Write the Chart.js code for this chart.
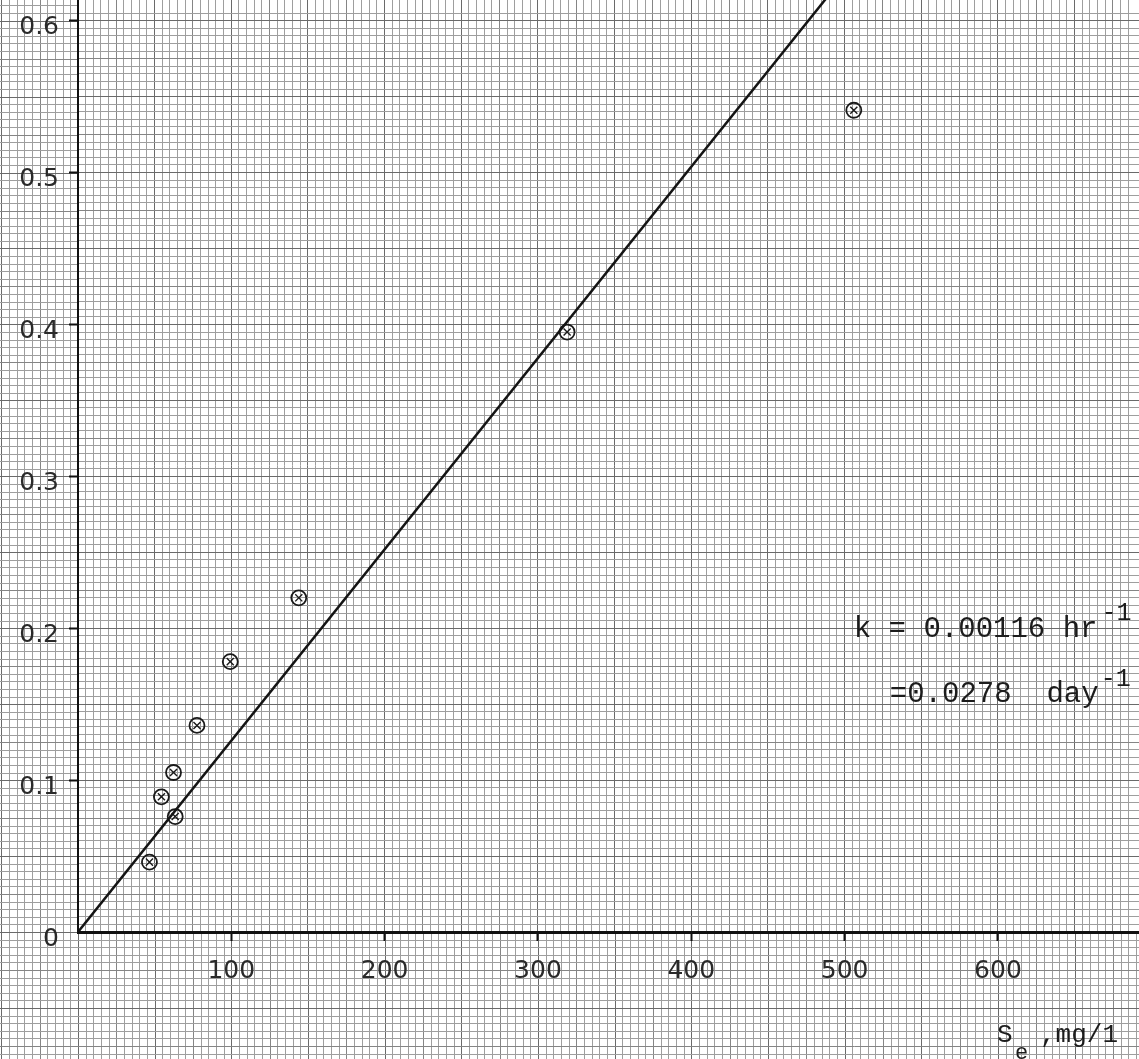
<!DOCTYPE html>
<html><head><meta charset="utf-8">
<script src="https://cdn.jsdelivr.net/npm/chart.js@4/dist/chart.umd.min.js"></script>
<style>html,body{margin:0;padding:0;background:#fff;}#wrap{width:1139px;height:1059px;position:relative;}</style>
</head><body><div id="wrap"><canvas id="c" width="1139" height="1059"></canvas></div>
<script>
// ---- data ----
const seX   = [46.6, 54.4, 62.3, 63.4, 77.6, 99.3, 144, 319, 506];
const rateY = [0.046, 0.089, 0.105, 0.076, 0.136, 0.178, 0.220, 0.395, 0.541];
const fitX  = [0, 520];
const fitY  = [0, 0.655];
const xTickLabels = [100, 200, 300, 400, 500, 600];
const yTickLabels = [0, 0.1, 0.2, 0.3, 0.4, 0.5, 0.6];
const annotLine1 = ["k = 0.00116 hr", "-1"];
const annotLine2 = ["=0.0278  day", "-1"];
const axisTitle = ["S", "e", ",mg/1"];
const annotAnchor = {x: 506, y: 0.194};

const X_MIN = 0, X_MAX = 692, Y_MIN = 0, Y_MAX = 0.6136;
const FINE_C = '#9e9e9e', MED_C = '#858585', HEAVY_C = '#6a6a6a';

function gridStyleX(v){
  const n = Math.round(v/5);
  if (Math.abs(v - n*5) > 1e-6) return null;
  if (n % 10 === 0) return HEAVY_C;
  if (n % 5 === 0) return MED_C;
  return FINE_C;
}
function gridStyleY(v){
  const n = Math.round(v/0.005);
  if (Math.abs(v - n*0.005) > 1e-7) return null;
  if (n % 10 === 0) return HEAVY_C;
  if (n % 5 === 0) return MED_C;
  return FINE_C;
}
function isXLabel(v){ return xTickLabels.some(t => Math.abs(t - v) < 1e-6); }
function isYLabel(v){ return yTickLabels.some(t => Math.abs(t - v) < 1e-7); }

const paperPlugin = {
  id: 'paper',
  beforeDraw(chart){
    const {ctx, scales:{x, y}, chartArea:a} = chart;
    const W = chart.width, H = chart.height;
    ctx.save();
    ctx.lineWidth = 1;
    for (let n = -40; n <= 140; n++){
      const v = n*5;
      const px = Math.round(x.getPixelForValue(v)) + 0.5;
      if (px < 0 || px > W) continue;
      ctx.strokeStyle = gridStyleX(v);
      ctx.beginPath();
      if (px < a.left){ ctx.moveTo(px, 0); ctx.lineTo(px, H); }
      else { ctx.moveTo(px, a.bottom); ctx.lineTo(px, H); }
      ctx.stroke();
    }
    for (let n = -40; n <= 124; n++){
      const v = n*0.005;
      const py = Math.round(y.getPixelForValue(v)) + 0.5;
      if (py < 0 || py > H) continue;
      ctx.strokeStyle = gridStyleY(v);
      ctx.beginPath();
      if (py > a.bottom){ ctx.moveTo(0, py); ctx.lineTo(W, py); }
      else { ctx.moveTo(0, py); ctx.lineTo(a.left, py); }
      ctx.stroke();
    }
    ctx.restore();
  },
  afterDraw(chart){
    const {ctx, scales:{x, y}} = chart;
    ctx.save();
    ctx.fillStyle = '#1c1c1c';
    ctx.textBaseline = 'alphabetic';
    ctx.textAlign = 'left';
    const ax = x.getPixelForValue(annotAnchor.x);
    const ay = y.getPixelForValue(annotAnchor.y);
    ctx.font = '29px "Liberation Mono"';
    ctx.fillText(annotLine1[0], ax, ay);
    const w1 = ctx.measureText(annotLine1[0]).width;
    const ax2 = ax + 36;
    ctx.fillText(annotLine2[0], ax2, ay + 65);
    const w2 = ctx.measureText(annotLine2[0]).width;
    ctx.font = '25px "Liberation Mono"';
    ctx.fillText(annotLine1[1], ax + w1 + 4, ay - 17);
    ctx.fillText(annotLine2[1], ax2 + w2 + 2, ay + 49);
    ctx.font = '26px "Liberation Mono"';
    ctx.fillText(axisTitle[0], 997, 1042);
    ctx.fillText(axisTitle[2], 1040, 1042);
    ctx.font = '22px "Liberation Mono"';
    ctx.fillText(axisTitle[1], 1015, 1059);
    ctx.restore();
  }
};

const tickFont = {family: '"DejaVu Sans"', size: 25};

new Chart(document.getElementById('c'), {
  type: 'scatter',
  data: {
    datasets: [
      {
        type: 'line',
        data: fitX.map((v, i) => ({x: v, y: fitY[i]})),
        borderColor: '#141414', borderWidth: 2.5, pointRadius: 0, fill: false, tension: 0
      },
      {
        data: seX.map((v, i) => ({x: v, y: rateY[i]})),
        pointStyle: 'circle', pointRadius: 7.5, borderWidth: 1.8,
        borderColor: '#1a1a1a', backgroundColor: 'rgba(0,0,0,0)'
      },
      {
        data: seX.map((v, i) => ({x: v, y: rateY[i]})),
        pointStyle: 'crossRot', pointRadius: 5, borderWidth: 1.4,
        borderColor: '#1a1a1a', backgroundColor: 'rgba(0,0,0,0)'
      }
    ]
  },
  options: {
    responsive: false, animation: false, devicePixelRatio: 1,
    layout: {padding: 0, autoPadding: false},
    plugins: {legend: {display: false}, tooltip: {enabled: false}},
    scales: {
      x: {
        type: 'linear', min: X_MIN, max: X_MAX,
        afterFit(s){ s.height = 127; s.paddingLeft = 0; s.paddingRight = 0; },
        border: {display: true, color: '#111', width: 3},
        grid: {
          color: c => gridStyleX(c.tick.value) || 'rgba(0,0,0,0)',
          lineWidth: 1,
          tickLength: 9, tickWidth: 2,
          tickColor: c => (isXLabel(c.tick.value) ? '#111' : 'rgba(0,0,0,0)')
        },
        ticks: {
          stepSize: 5, autoSkip: false, maxRotation: 0, padding: 15,
          font: tickFont, color: '#2a2a2a',
          callback: v => (isXLabel(v) ? String(Math.round(v)) : '')
        }
      },
      y: {
        type: 'linear', min: Y_MIN, max: Y_MAX,
        afterFit(s){ s.width = 78; s.paddingTop = 0; s.paddingBottom = 0; },
        border: {display: true, color: '#111', width: 2},
        grid: {
          color: c => gridStyleY(c.tick.value) || 'rgba(0,0,0,0)',
          lineWidth: 1,
          tickLength: 9, tickWidth: 2,
          tickColor: c => (isYLabel(c.tick.value) && c.tick.value > 0 ? '#111' : 'rgba(0,0,0,0)')
        },
        ticks: {
          stepSize: 0.005, autoSkip: false, padding: 10, labelOffset: 7,
          font: tickFont, color: '#2a2a2a',
          callback: v => (isYLabel(v) ? (Math.abs(v) < 1e-9 ? '0' : v.toFixed(1)) : '')
        }
      }
    }
  },
  plugins: [paperPlugin]
});
</script></body></html>
